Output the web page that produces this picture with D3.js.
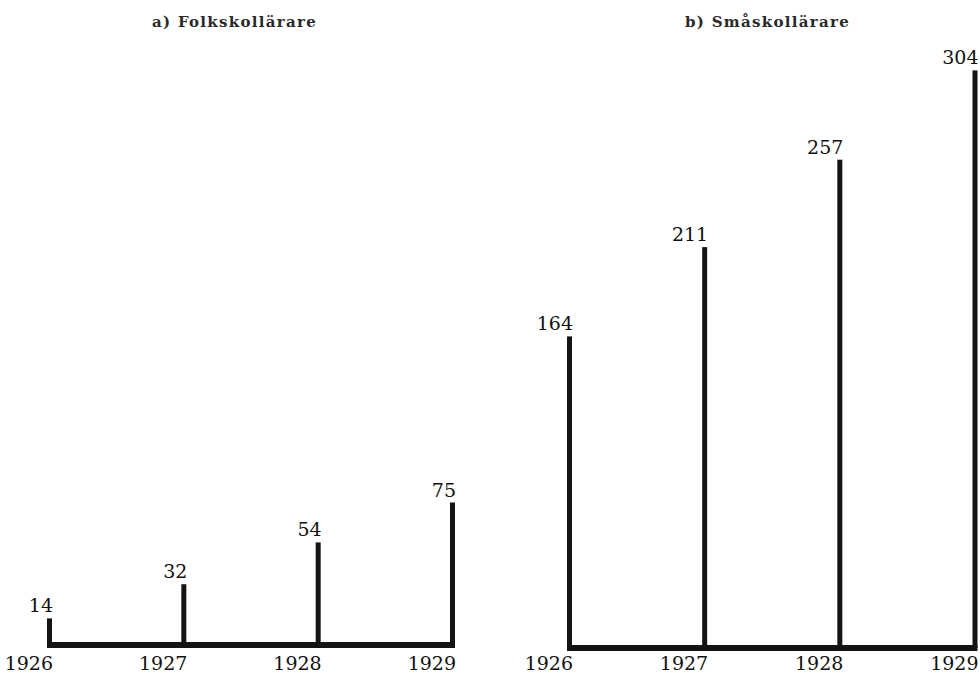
<!DOCTYPE html>
<html>
<head>
<meta charset="utf-8">
<script src="https://cdn.jsdelivr.net/npm/d3@7"></script>
<style>
  html, body { margin: 0; padding: 0; background: #fff; }
  svg { display: block; }
</style>
</head>
<body>
<svg id="chart" width="980" height="673"></svg>
<script>
const years = ["1926", "1927", "1928", "1929"];
const folkValues = [14, 32, 54, 75];
const smaValues = [164, 211, 257, 304];
const titles = ["a) Folkskollärare", "b) Småskollärare"];

const svg = d3.select("#chart");
const ink = "#141414";
const pxPerUnit = 1.9;

const panels = [
  { title: titles[0], values: folkValues, x0: 49.5, x1: 452.5, base: 645, titleX: 152 },
  { title: titles[1], values: smaValues, x0: 569.5, x1: 975, base: 648, titleX: 685 }
];

panels.forEach(p => {
  const g = svg.append("g");
  const x = d3.scalePoint().domain(years).range([p.x0, p.x1]);
  const y = d3.scaleLinear().domain([0, 304]).range([p.base, p.base - 304 * pxPerUnit]);
  const barW = 5;

  // title
  g.append("text")
    .attr("x", p.titleX).attr("y", 27)
    .attr("text-anchor", "start")
    .attr("font-family", "DejaVu Serif")
    .attr("font-weight", "bold")
    .attr("font-size", 15)
    .attr("letter-spacing", 1.3)
    .attr("fill", "#2a2a2a")
    .text(p.title);

  // bars
  g.selectAll("rect.bar").data(p.values).enter().append("rect")
    .attr("class", "bar")
    .attr("x", (d, i) => x(years[i]) - barW / 2)
    .attr("width", barW)
    .attr("y", d => y(d))
    .attr("height", d => y(0) - y(d))
    .attr("fill", ink);

  // baseline
  g.append("rect")
    .attr("x", p.x0 - barW / 2)
    .attr("width", p.x1 - p.x0 + barW)
    .attr("y", y(0) - 3)
    .attr("height", 6)
    .attr("fill", ink);

  // value labels
  g.selectAll("text.val").data(p.values).enter().append("text")
    .attr("class", "val")
    .attr("x", (d, i) => x(years[i]) + barW / 2 + 1)
    .attr("y", d => y(d) - 6)
    .attr("text-anchor", "end")
    .attr("font-family", "DejaVu Serif")
    .attr("font-size", 19)
    .attr("fill", "#111")
    .text(d => d);

  // year labels
  g.selectAll("text.year").data(years).enter().append("text")
    .attr("class", "year")
    .attr("x", d => x(d) + barW / 2 + 1)
    .attr("y", 670)
    .attr("text-anchor", "end")
    .attr("font-family", "DejaVu Serif")
    .attr("font-size", 19)
    .attr("fill", "#111")
    .text(d => d);
});
</script>
</body>
</html>
